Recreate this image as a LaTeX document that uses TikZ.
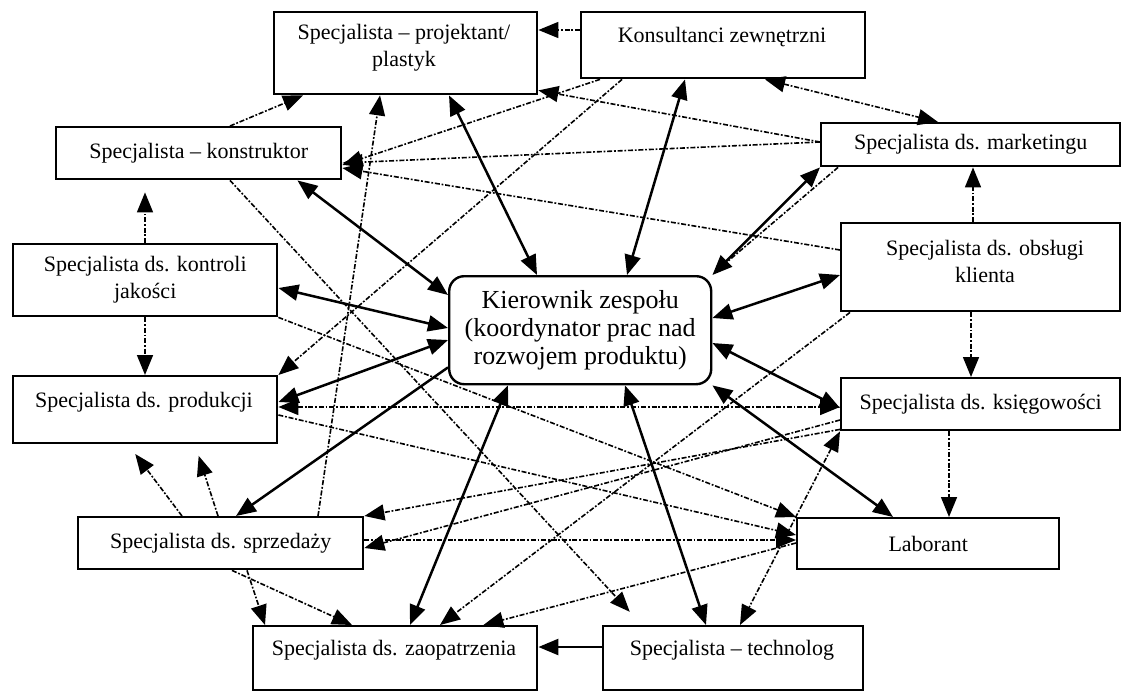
\documentclass[tikz,border=0pt]{standalone}
\usepackage{fontspec}
\setmainfont{Liberation Serif}
\usetikzlibrary{arrows.meta,calc}
\begin{document}
\begin{tikzpicture}[x=1pt,y=-1pt,
  >={Triangle[length=20pt,width=16pt]},
  box/.style={draw, fill=white, line width=2.4pt, inner sep=0pt, anchor=north west,
    font=\fontsize{22}{27}\selectfont, align=center},
  chief/.style={box, rounded corners=15pt, font=\fontsize{26}{28}\selectfont},
  lbl/.style={inner sep=0pt, font=\fontsize{22}{27}\selectfont, align=center},
  main/.style={line width=2.5pt},
  link/.style={line width=1.6pt, dash pattern=on 5pt off 1.8pt on 1.8pt off 1.8pt},
]
\useasboundingbox (0,0) rectangle (1123,691);

% boxes
\node[box, minimum width=263pt, minimum height=82pt] (P)  at (273,11) {};
\node[box, minimum width=284pt, minimum height=66pt] (K)  at (580,11) {};
\node[box, minimum width=285pt, minimum height=52pt] (KS) at (55,126) {Specjalista -- konstruktor};
\node[box, minimum width=299pt, minimum height=43pt] (M)  at (820,122) {Specjalista ds. marketingu};
\node[box, minimum width=279pt, minimum height=88pt] (O)  at (840,222) {};
\node[box, minimum width=264pt, minimum height=72pt] (KJ) at (12,243) {Specjalista ds. kontroli\\jakości};
\node[chief, minimum width=262pt, minimum height=108pt] (C) at (448,275) {Kierownik zespołu\\(koordynator prac nad\\rozwojem produktu)};
\node[box, minimum width=264pt, minimum height=67pt] (PR) at (12,375) {};
\node[box, minimum width=279pt, minimum height=52pt] (KG) at (840,377) {Specjalista ds. księgowości};
\node[box, minimum width=285pt, minimum height=52pt] (S)  at (77,516) {Specjalista ds. sprzedaży};
\node[box, minimum width=262pt, minimum height=51pt] (L)  at (796,517) {Laborant};
\node[box, minimum width=284pt, minimum height=64pt] (Z)  at (252,625) {};
\node[box, minimum width=260pt, minimum height=64pt] (T)  at (602,625) {};

% labels set near the top of their boxes
\node[lbl] (Pt) at (404,48) {Specjalista -- projektant/\\plastyk};
\node[lbl] (Kt) at (722,37) {Konsultanci zewnętrzni};
\node[lbl] (Ot) at (985,261) {Specjalista ds. obsługi\\klienta};
\node[lbl] (PRt) at (144,402) {Specjalista ds. produkcji};
\node[lbl] (Zt) at (394,650) {Specjalista ds. zaopatrzenia};
\node[lbl] (Tt) at (732,650) {Specjalista -- technolog};

% links with the team leader
\draw[main,<->] ($(P.south west)+(176,0)$) -- ($(C.north west)+(89,0)$);
\draw[main,<->] ($(K.south west)+(105,0)$) -- ($(C.north west)+(179,0)$);
\draw[main,<->] (M.south west) -- (C.north east);
\draw[main,<->] ($(KS.south east)+(-45,0)$) -- ($(C.north west)+(0,20)$);
\draw[main,<->] ($(KJ.north east)+(0,45)$) -- ($(C.north west)+(0,53)$);
\draw[main,<->] ($(PR.north east)+(0,27)$) -- ($(C.north west)+(0,65)$);
\draw[main,<->] ($(O.north west)+(0,53)$) -- ($(C.north east)+(0,43)$);
\draw[main,<->] ($(KG.north west)+(0,31)$) -- ($(C.north east)+(0,68)$);
\draw[main,<->] ($(L.north west)+(97,0)$) -- (C.south east);
\draw[main,<->] ($(T.north west)+(104,0)$) -- ($(C.south west)+(177,0)$);
\draw[main,<->] ($(Z.north west)+(158,0)$) -- ($(C.south west)+(60,0)$);
\draw[main,->] ($(C.south west)+(0,-18)$) -- ($(S.north west)+(159,0)$);
\draw[main,->] ($(T.north west)+(0,22)$) -- ($(Z.north east)+(0,22)$);

% links between specialists
\draw[link,->] ($(K.north west)+(0,19)$) -- ($(P.north east)+(0,19)$);
\draw[link,->] ($(M.north west)+(0,20)$) -- ($(P.south east)+(0,-5)$);
\draw[link,->] ($(K.south west)+(20,0)$) -- ($(KS.north east)+(0,39)$);
\draw[link,->] ($(M.north west)+(0,20)$) -- ($(KS.north east)+(0,37)$);
\draw[link,->] ($(O.north west)+(0,28)$) -- ($(KS.north east)+(0,42)$);
\draw[link,<->] ($(K.south west)+(185,0)$) -- ($(M.north west)+(118,0)$);
\draw[link,->] ($(K.south west)+(42,0)$) -- (PR.north east);
\draw[link,->] ($(KS.north west)+(175,0)$) -- ($(P.south west)+(30,0)$);
\draw[link,->] ($(S.north west)+(241,0)$) -- ($(P.south west)+(107,0)$);
\draw[link,->,shorten >=12pt] ($(KJ.north west)+(133,0)$) -- ($(KS.south west)+(90,0)$);
\draw[link,->] ($(KJ.south west)+(133,0)$) -- ($(PR.north west)+(133,0)$);
\draw[link,->,shorten >=18pt] ($(KS.south west)+(175,0)$) -- ($(T.north west)+(40,0)$);
\draw[link,->] (KJ.south east) -- (L.north west);
\draw[link,->] ($(PR.north east)+(0,40)$) -- ($(L.north west)+(0,18)$);
\draw[link,<->] ($(PR.north east)+(0,32)$) -- ($(KG.north west)+(0,30)$);
\draw[link,->] ($(S.north east)+(0,24)$) -- ($(L.north west)+(0,23)$);
\draw[link,->] ($(L.north west)+(0,26)$) -- ($(Z.north east)+(-55,0)$);
\draw[link,->] ($(O.south west)+(10,0)$) -- ($(Z.north west)+(188,0)$);
\draw[link,<->] (KG.south west) -- ($(T.north west)+(138,0)$);
\draw[link,->] ($(KG.south west)+(0,-2)$) -- (S.north east);
\draw[link,->] ($(KG.north west)+(0,43)$) -- ($(S.north east)+(0,32)$);
\draw[link,->] ($(KG.south west)+(109,0)$) -- ($(L.north west)+(153,0)$);
\draw[link,->] ($(O.south west)+(131,0)$) -- ($(KG.north west)+(131,0)$);
\draw[link,->] ($(O.north west)+(133,0)$) -- ($(M.south west)+(153,0)$);
\draw[link,->,shorten >=12pt] ($(S.north west)+(105,0)$) -- ($(PR.south west)+(116,0)$);
\draw[link,->,shorten >=12pt] ($(S.north west)+(141,0)$) -- ($(PR.south west)+(183,0)$);
\draw[link,->] ($(S.south west)+(170,0)$) -- ($(Z.north west)+(13,0)$);
\draw[link,->] ($(S.south west)+(155,0)$) -- ($(Z.north west)+(100,0)$);
\draw[link] ($(M.south west)+(18,0)$) -- ($(C.north east)+(4,-4)$);
\end{tikzpicture}
\end{document}
